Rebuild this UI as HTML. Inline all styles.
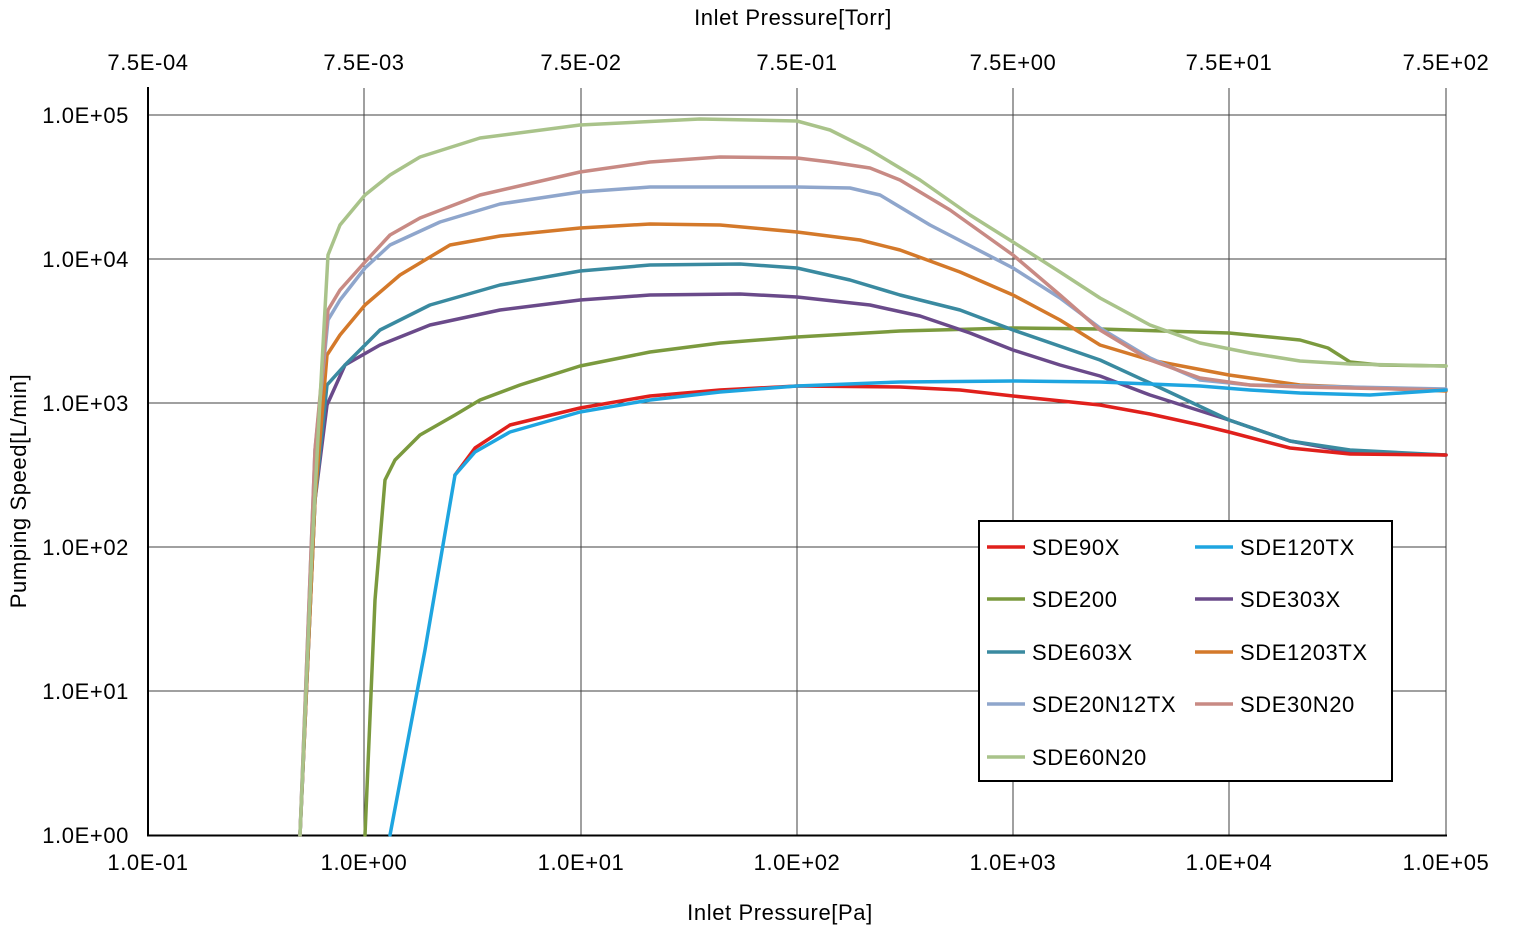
<!DOCTYPE html>
<html><head><meta charset="utf-8"><style>
html,body{margin:0;padding:0;background:#fff;}
svg{display:block;}
text{font-family:"Liberation Sans",Arial,sans-serif;font-size:22px;letter-spacing:0.6px;fill:#000;}
.g{stroke:#404040;stroke-width:1;}
.c{fill:none;stroke-width:3.5;stroke-linejoin:round;stroke-linecap:round;}
</style></head><body>
<svg width="1540" height="933" viewBox="0 0 1540 933">
<g class="g">
<line x1="148" y1="115" x2="1446" y2="115"/>
<line x1="148" y1="259" x2="1446" y2="259"/>
<line x1="148" y1="403" x2="1446" y2="403"/>
<line x1="148" y1="547" x2="1446" y2="547"/>
<line x1="148" y1="691" x2="1446" y2="691"/>
<line x1="364" y1="88" x2="364" y2="835"/>
<line x1="581" y1="88" x2="581" y2="835"/>
<line x1="797" y1="88" x2="797" y2="835"/>
<line x1="1013" y1="88" x2="1013" y2="835"/>
<line x1="1229" y1="88" x2="1229" y2="835"/>
<line x1="1446" y1="88" x2="1446" y2="835"/>
</g>
<line x1="148" y1="87" x2="148" y2="836" stroke="#000" stroke-width="2"/>
<line x1="147" y1="835.5" x2="1447" y2="835.5" stroke="#000" stroke-width="2"/>

<g text-anchor="middle">
<text x="148" y="70">7.5E-04</text><text x="364" y="70">7.5E-03</text><text x="581" y="70">7.5E-02</text>
<text x="797" y="70">7.5E-01</text><text x="1013" y="70">7.5E+00</text><text x="1229" y="70">7.5E+01</text><text x="1446" y="70">7.5E+02</text>
<text x="148" y="870">1.0E-01</text><text x="364" y="870">1.0E+00</text><text x="581" y="870">1.0E+01</text>
<text x="797" y="870">1.0E+02</text><text x="1013" y="870">1.0E+03</text><text x="1229" y="870">1.0E+04</text><text x="1446" y="870">1.0E+05</text>
<text x="793" y="25">Inlet Pressure[Torr]</text>
<text x="780" y="920">Inlet Pressure[Pa]</text>
<text transform="translate(26,491) rotate(-90)">Pumping Speed[L/min]</text>
</g>
<g text-anchor="end">
<text x="129" y="123">1.0E+05</text><text x="129" y="267">1.0E+04</text><text x="129" y="411">1.0E+03</text>
<text x="129" y="555">1.0E+02</text><text x="129" y="699">1.0E+01</text><text x="129" y="843">1.0E+00</text>
</g>

<polyline class="c" stroke="#7b9a3e" points="365,835 375,600 385,480 395,460 420,435 455,415 480,400 520,385 580,366 650,352 720,343 797,337 900,331 1013,328 1100,329 1229,333 1300,340 1328,348 1350,362 1380,365 1446,366"/>
<polyline class="c" stroke="#6a4a8a" points="300,835 315,500 327,405 345,365 380,345 430,325 500,310 580,300 650,295 740,294 797,297 870,305 920,316 970,333 1013,350 1060,365 1100,376 1150,395 1229,420 1290,441 1350,452 1446,455"/>
<polyline class="c" stroke="#3a8aa0" points="300,835 315,500 327,385 345,365 380,330 430,305 500,285 580,271 650,265 740,264 797,268 850,280 900,295 960,310 1013,330 1100,360 1150,383 1229,420 1290,441 1350,450 1446,455"/>
<polyline class="c" stroke="#d4792a" points="300,835 315,500 327,355 340,335 365,305 400,275 450,245 500,236 580,228 650,224 720,225 797,232 860,240 900,250 960,272 1013,295 1060,320 1100,345 1150,360 1229,375 1300,385 1446,391"/>
<polyline class="c" stroke="#8fa6cc" points="300,835 315,450 328,320 340,300 365,268 390,245 440,222 500,204 580,192 650,187 797,187 850,188 880,195 930,225 1013,268 1060,298 1100,328 1150,358 1200,380 1250,385 1446,389"/>
<polyline class="c" stroke="#c88a84" points="300,835 315,450 328,310 340,290 365,262 390,235 420,218 480,195 580,172 650,162 720,157 797,158 830,162 870,168 900,180 950,210 1013,255 1060,295 1100,330 1150,360 1200,378 1250,385 1300,387 1446,390"/>
<polyline class="c" stroke="#a9c38a" points="300,835 312,550 320,400 328,255 340,225 365,195 390,175 420,157 480,138 580,125 700,119 797,121 830,130 870,150 920,180 970,215 1013,242 1060,272 1100,298 1150,325 1200,343 1250,353 1300,361 1350,364 1446,366"/>
<polyline class="c" stroke="#e0201c" points="455,475 475,448 510,425 580,408 650,396 720,390 797,386 900,387 960,390 1013,396 1100,405 1150,414 1200,425 1229,432 1290,448 1350,454 1446,455"/>
<polyline class="c" stroke="#1ea5e0" points="390,835 425,650 455,475 475,452 510,432 580,412 650,400 720,392 797,386 900,382 1013,381 1100,382 1200,386 1250,390 1300,393 1370,395 1446,390"/>

<rect x="979" y="521" width="413" height="260" fill="#fff" stroke="#000" stroke-width="2"/>
<g stroke-width="3.5">
<line x1="987" y1="547" x2="1025" y2="547" stroke="#e0201c"/>
<line x1="1195" y1="547" x2="1233" y2="547" stroke="#1ea5e0"/>
<line x1="987" y1="599" x2="1025" y2="599" stroke="#7b9a3e"/>
<line x1="1195" y1="599" x2="1233" y2="599" stroke="#6a4a8a"/>
<line x1="987" y1="652" x2="1025" y2="652" stroke="#3a8aa0"/>
<line x1="1195" y1="652" x2="1233" y2="652" stroke="#d4792a"/>
<line x1="987" y1="704" x2="1025" y2="704" stroke="#8fa6cc"/>
<line x1="1195" y1="704" x2="1233" y2="704" stroke="#c88a84"/>
<line x1="987" y1="757" x2="1025" y2="757" stroke="#a9c38a"/>
</g>
<text x="1032" y="555">SDE90X</text><text x="1240" y="555">SDE120TX</text>
<text x="1032" y="607">SDE200</text><text x="1240" y="607">SDE303X</text>
<text x="1032" y="660">SDE603X</text><text x="1240" y="660">SDE1203TX</text>
<text x="1032" y="712">SDE20N12TX</text><text x="1240" y="712">SDE30N20</text>
<text x="1032" y="765">SDE60N20</text>
</svg>
</body></html>
